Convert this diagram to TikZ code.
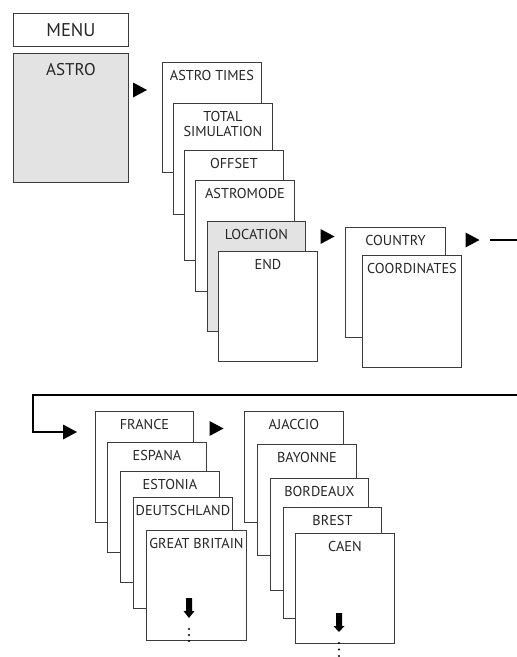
\documentclass[tikz,border=0pt]{standalone}
\usepackage{fontspec}
\setmainfont{PT Sans}
\definecolor{boxline}{HTML}{3C3C3C}
\definecolor{txt}{HTML}{262626}
\definecolor{shade}{HTML}{E3E3E3}
\newcommand\boxnode[7][]{%
  \node[box,#1,minimum width={(#5-#3)*1pt},minimum height={(#6-#4)*1pt},
        label={[lbl]north:#7}] (#2) at (#3,#4) {};}
\begin{document}
\begin{tikzpicture}[x=1pt,y=-1pt,
  box/.style={draw=boxline,line width=0.9pt,fill=white,anchor=north west,inner sep=0pt},
  lbl/.style={font=\fontsize{14.3}{15}\selectfont,text=txt,anchor=north,inner sep=0pt,align=center,yshift=-8.5pt},
  big/.style={font=\fontsize{17}{18}\selectfont,text=txt},
  conn/.style={line width=2.9pt,black},
  tip/.style={fill=black}]
\useasboundingbox (0,0) rectangle (517,657);

% top menu
\node[box,minimum width=115pt,minimum height=33pt,big,font=\fontsize{18.5}{19}\selectfont] (menu) at (13,13) {MENU};
\node[box,fill=shade,minimum width=115pt,minimum height=129pt,
      label={[big,anchor=north,inner sep=0pt,yshift=-10pt]north:ASTRO}] (astro) at (13,53) {};

% astro submenu
\boxnode{atimes}{162}{62}{261}{172}{ASTRO TIMES}
\boxnode{tsim}{173}{103}{272}{214}{TOTAL\\SIMULATION}
\boxnode{offset}{184}{150}{283}{260}{OFFSET}
\boxnode{amode}{195}{180}{294}{291}{ASTROMODE}
\boxnode[fill=shade]{loc}{207}{221}{305}{331}{LOCATION}
\boxnode{end}{218}{251}{317}{361}{END}

% location submenu
\boxnode{country}{345}{227}{445}{337}{COUNTRY}
\boxnode{coord}{362}{255}{461}{367}{COORDINATES}

% countries
\boxnode{france}{95}{411}{193}{522}{FRANCE}
\boxnode{espana}{107}{442}{206}{552}{ESPANA}
\boxnode{estonia}{120}{471}{219}{582}{ESTONIA}
\boxnode{deutsch}{133}{497}{232}{608}{DEUTSCHLAND}
\boxnode{gb}{146}{530}{246}{640}{GREAT BRITAIN}

% cities
\boxnode{ajaccio}{244}{411}{343}{522}{AJACCIO}
\boxnode{bayonne}{257}{444}{356}{555}{BAYONNE}
\boxnode{bordeaux}{270}{478}{368}{590}{BORDEAUX}
\boxnode{brest}{283}{507}{381}{618}{BREST}
\boxnode{caen}{295}{533}{394}{643}{CAEN}

% pointer triangles
\coordinate (t1) at (140,90);
\coordinate (t2) at (327.5,236.5);
\coordinate (t3) at (472.5,240);
\coordinate (t4) at (70,432);
\coordinate (t5) at (216.5,428.5);
\foreach \t in {t1,t2,t3,t4,t5}
  \fill[tip] (\t) +(-7,-7.5) -- +(7,0) -- +(-7,7.5) -- cycle;

% long connector
\coordinate (c1) at (490,240);
\coordinate (c2) at (517,240);
\coordinate (c3) at (517,395);
\coordinate (c4) at (33,395);
\coordinate (t4w) at (64,432);
\draw[conn] (c1) -- (c2);
\draw[conn] (c3) -- (c4) |- (t4w);

% down arrows and dots
\fill[tip] (186,598) -- (192,598) -- (192,611) -- (194.5,611) -- (189,618)
  -- (183.5,611) -- (186,611) -- cycle;
\fill[tip] (336,613) -- (342,613) -- (342,626) -- (344.5,626) -- (339,632)
  -- (333.5,626) -- (336,626) -- cycle;
\foreach \y in {629,635,641} \fill[tip] (189,\y) circle (1.2);
\foreach \y in {643,649.5,656} \fill[tip] (339,\y) circle (1.2);
\end{tikzpicture}
\end{document}
